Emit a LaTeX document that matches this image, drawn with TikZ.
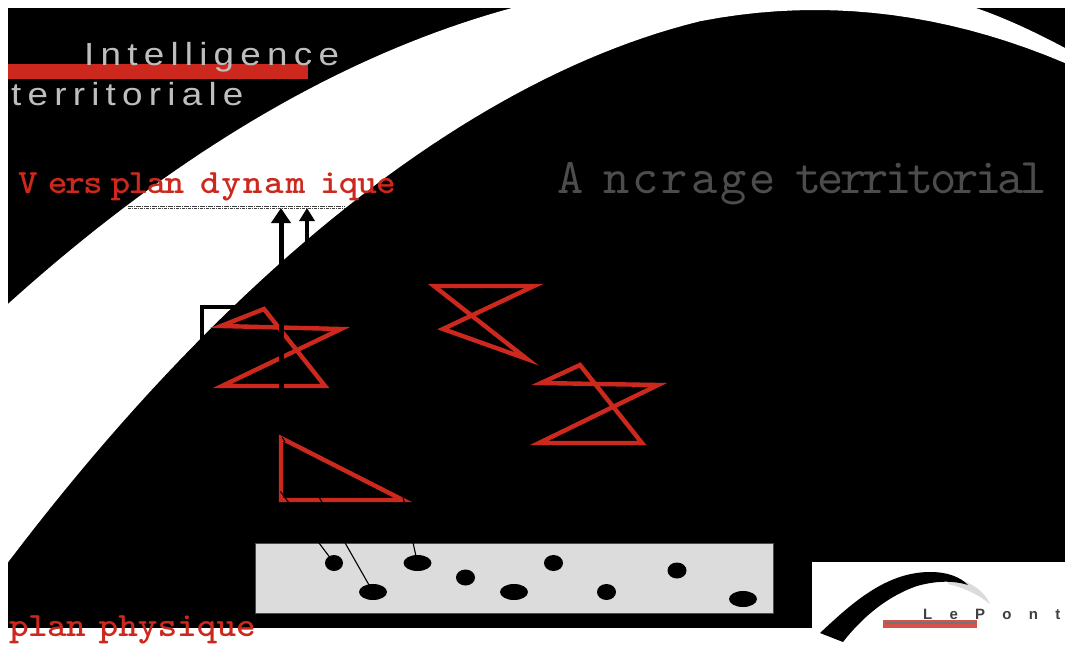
\documentclass[tikz,border=0pt]{standalone}
\usepackage{fontspec}
\usetikzlibrary{arrows.meta,shapes.geometric}
\setmainfont{Liberation Sans}
\newfontfamily\titlefont[FakeStretch=1.15,LetterSpace=19.5]{Liberation Sans}
\newfontfamily\pontfont[LetterSpace=115]{Liberation Sans}
\newfontfamily\planfont[Extension=.otf,FakeStretch=1.1]{lmmonolt10-bold}
\newfontfamily\ancrefont[Extension=.otf]{lmmono10-regular}
\definecolor{rouge}{HTML}{CC281E}
\definecolor{titregris}{HTML}{BEBEBE}
\definecolor{ancregris}{HTML}{4C4C4C}
\definecolor{plangris}{HTML}{DCDCDC}
\tikzset{
  titre/.style={anchor=base west,inner sep=0pt,text=titregris,font=\titlefont\fontsize{32}{32}\selectfont},
  plan/.style={anchor=base west,inner sep=0pt,text=rouge,font=\planfont\fontsize{34}{34}\selectfont},
  zed/.style={draw=rouge,line width=4.4pt,miter limit=20},
  dot/.style={ellipse,fill=black,inner sep=0pt},
  lien/.style={black,line width=1.1pt},
  montee/.style={black,line width=5pt},
}
\newcommand{\lsp}[2]{{\addfontfeature{LetterSpace=#1}#2}}
\begin{document}
\begin{tikzpicture}[x=1pt,y=-1pt]
\useasboundingbox (0,0) rectangle (1065,645);
\fill[white] (0,0) rectangle (1065,645);
\fill[black] (8,8) rectangle (1065,628);
% white band
\fill[white] plot[domain=8:512,samples=40] (\x,{-21.8+6.24*((\x-730.5)/100)^2})
  -- (976,8) .. controls (1005,18) and (1035,32) .. (1065,48)
  -- (1065,63)
  -- plot[domain=1065:700,samples=20] (\x,{10+8.48*((\x-815)/100)^2})
  -- plot[domain=700:8,samples=50] (\x,{10+8.48*((\x-815)/100)^2+11*sin(0.26*(\x-8))})
  -- cycle;
% logo
\fill[white] (812,562) rectangle (1065,645);
\fill[black!14] (950,576) .. controls (972,582) and (985,592) .. (990,604) .. controls (980,596) and (968,589) .. (948,584) -- cycle;
\fill[black] (820,633) .. controls (850,605) and (885,572) .. (930,572) .. controls (948,572) and (960,577) .. (968,585) .. controls (952,580) and (935,581) .. (917,586) .. controls (885,597) and (860,620) .. (843,642) -- cycle;
\fill[rouge!80!white] (883,620) rectangle (977,628);
\fill[black!55] (885,622) rectangle (975,624);
\node[anchor=base west,inner sep=0pt,text=black!75,font=\pontfont\bfseries\fontsize{15}{15}\selectfont] (lepont) at (923,619) {LePont};
% titles
\fill[rouge] (8,64) rectangle (308,79);
\node[titre] (intel) at (84,65) {Intelligence};
\node[titre] (terr) at (11,105) {territoriale};
\node[plan] (vers) at (18,193) {V\kern10pt \lsp{-6}{ers} \kern-11.6pt\lsp{-5}{plan} \kern-3.6pt\lsp{5}{dynam}\kern15pt \lsp{-3}{ique}};
\node[plan] (phys) at (9,636) {\lsp{-2}{plan} \kern-6.6pt physique};
\node[anchor=base west,inner sep=0pt,text=ancregris,font=\ancrefont\fontsize{50}{50}\selectfont] (ancre) at (557,193) {A\kern20pt\lsp{6}{ncrage} \kern-7pt\lsp{-7.5}{territorial}};
% dynamic plane line
\coordinate (dashL) at (128,206);
\coordinate (dashR) at (345,206);
\coordinate (dashLb) at (128,208);
\coordinate (dashRb) at (345,208);
\draw[black!75,line width=0.8pt,dash pattern=on 5pt off 1pt on 1pt off 1pt] (dashL) -- (dashR);
\draw[black!75,line width=0.8pt,dash pattern=on 3pt off 1pt on 1pt off 1pt] (dashLb) -- (dashRb);
% red triangles
\draw[zed] (264,309) -- (325,386) -- (222,386) -- (341,329) -- (221,326) -- cycle;
\draw[zed] (434,286) -- (534,286) -- (443,329) -- (527,359) -- cycle;
\draw[zed] (580,365) -- (642,443) -- (539,443) -- (658,385) -- (541,383) -- cycle;
% box corner
\draw[black,line width=4pt,miter limit=10] (202,340) -- (202,307) -- (238,307);
% arrows
\coordinate (a1s) at (281,436);
\coordinate (a1e) at (281,208);
\coordinate (a2s) at (307,245);
\coordinate (a2e) at (307,208);
\draw[montee,-{Triangle[width=19pt,length=15pt]}] (a1s) -- (a1e);
\draw[black,line width=4pt,-{Triangle[width=15pt,length=13pt]}] (a2s) -- (a2e);
% lower triangle
\draw[zed] (281,438) -- (281,500) -- (403,500) -- cycle;
% physical plane
\node[draw=black!70,fill=plangris,line width=0.5pt,inner sep=0pt,minimum width=518pt,minimum height=70pt,anchor=north west] (phy) at (255,543) {};
\node[dot,minimum width=18pt,minimum height=16pt] (d1) at (334,563) {};
\node[dot,minimum width=28pt,minimum height=16pt] (d2) at (373,592) {};
\node[dot,minimum width=28pt,minimum height=16pt] (d3) at (417.5,563) {};
\node[dot,minimum width=19pt,minimum height=16pt] (d4) at (465.5,577.5) {};
\node[dot,minimum width=28pt,minimum height=16pt] (d5) at (514,592) {};
\node[dot,minimum width=19pt,minimum height=16pt] (d6) at (553.5,563) {};
\node[dot,minimum width=19pt,minimum height=16pt] (d7) at (606.5,592) {};
\node[dot,minimum width=19pt,minimum height=16pt] (d8) at (677,570.5) {};
\node[dot,minimum width=28pt,minimum height=16pt] (d9) at (743,599) {};
% links
\coordinate (t1) at (280.5,491.5);
\coordinate (t2) at (319,497);
\coordinate (t3) at (403,497);
\coordinate (t4a) at (282,437);
\coordinate (t4b) at (285,442);
\draw[lien] (d1.center) -- (t1);
\draw[lien] (d2.center) -- (t2);
\draw[lien] (d3.center) -- (t3);
\draw[lien] (t4a) -- (t4b);
\end{tikzpicture}
\end{document}
